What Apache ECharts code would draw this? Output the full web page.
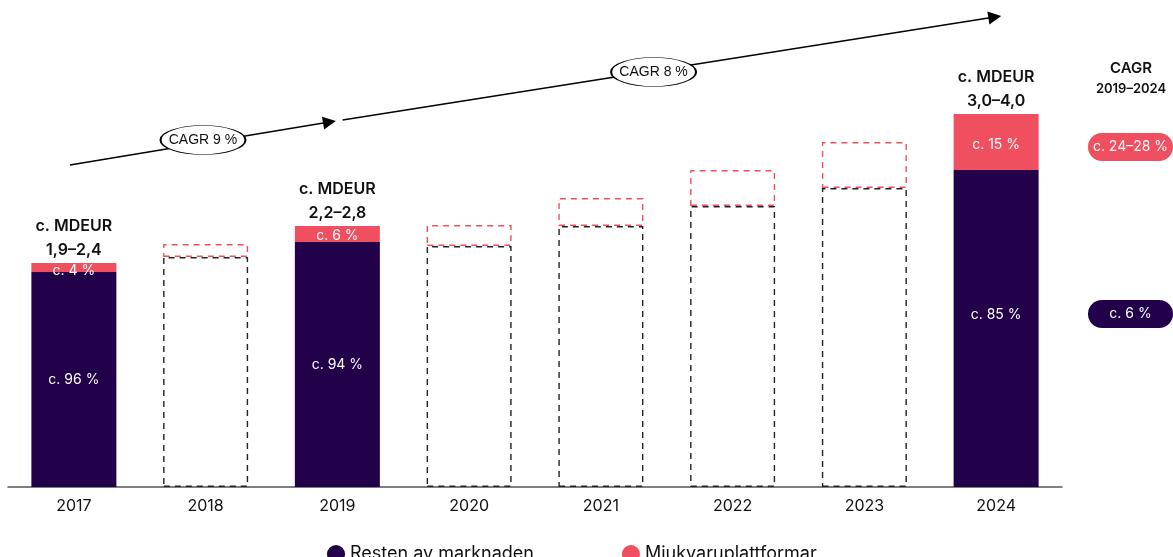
<!DOCTYPE html>
<html>
<head>
<meta charset="utf-8">
<script src="https://cdn.jsdelivr.net/npm/echarts@6/dist/echarts.min.js"></script>
<style>
  html, body { margin: 0; padding: 0; background: #fff; }
  #chart { width: 1173px; height: 557px; }
</style>
</head>
<body>
<div id="chart"></div>
<script>
// kategorier och värden (MDEUR)
var years = ['2017', '2018', '2019', '2020', '2021', '2022', '2023', '2024']
var resten = [2.15, 2.30, 2.45, 2.41, 2.61, 2.81, 2.99, 3.17]
var mjukvara = [0.09, 0.13, 0.16, 0.21, 0.28, 0.36, 0.46, 0.56]
var estimated = [false, true, false, true, true, true, true, false]
var restenLabels = ['c. 96 %', '', 'c. 94 %', '', '', '', '', 'c. 85 %']
var mjukLabels = ['c. 4 %', '', 'c. 6 %', '', '', '', '', 'c. 15 %']
var totalLabels = ['c. MDEUR\n1,9–2,4', '', 'c. MDEUR\n2,2–2,8', '', '', '', '', 'c. MDEUR\n3,0–4,0']
// CAGR-pilar: [x (kategoriindex), y (MDEUR)]
var arrows = [
    [[-0.03, 3.22], [1.94, 3.65]],
    [[2.04, 3.67], [6.99, 4.70]]
]
var cagrTags = [
    { pos: [0.98, 3.47], text: 'CAGR 9 %' },
    { pos: [4.40, 4.15], text: 'CAGR 8 %' }
]

var DARK = '#22004a'
var RED = '#f04f5f'
var FONT = 'Inter, "Noto Sans", sans-serif'

function barData (values, color, dashColor, labels, offsets) {
    return values.map(function (v, i) {
        var item = { value: v }
        if (estimated[i]) {
            item.itemStyle = {
                color: 'rgba(0,0,0,0)',
                borderColor: dashColor,
                borderWidth: 1.4,
                borderType: [6, 5]
            }
        } else {
            item.itemStyle = { color: color }
        }
        if (labels[i]) {
            item.label = { show: true, formatter: labels[i] }
            if (offsets && offsets[i]) item.label.offset = offsets[i]
        }
        return item
    })
}

function pill (y, text, fill) {
    return {
        type: 'group',
        x: 1088,
        y: y,
        children: [{
            type: 'rect',
            shape: { x: 0, y: 0, width: 85, height: 28, r: 14 },
            style: { fill: fill }
        }, {
            type: 'text',
            style: {
                x: 42.5, y: 14, text: text, align: 'center', verticalAlign: 'middle',
                font: '14px ' + FONT, fill: '#fff'
            }
        }]
    }
}

var myChart = echarts.init(document.getElementById('chart'))
var option = {
    animation: false,
    textStyle: { fontFamily: FONT },
    grid: { left: 8, right: 111, top: 87, bottom: 70 },
    legend: {
        left: 322,
        top: 540,
        icon: 'circle',
        itemWidth: 18,
        itemHeight: 18,
        itemGap: 88,
        textStyle: { fontSize: 18, color: '#111', fontFamily: FONT },
        data: ['Resten av marknaden', 'Mjukvaruplattformar']
    },
    xAxis: [{
        type: 'category',
        data: years,
        axisLine: { lineStyle: { color: '#555', width: 1.5 } },
        axisTick: { show: false },
        axisLabel: { fontSize: 16, color: '#111', margin: 11, fontFamily: FONT }
    }, {
        type: 'value',
        min: -0.5,
        max: 7.5,
        show: false
    }],
    yAxis: { type: 'value', min: 0, max: 4, show: false },
    series: [{
        name: 'Resten av marknaden',
        type: 'bar',
        stack: 'total',
        barWidth: 85,
        z: 2,
        itemStyle: { color: DARK },
        label: { show: false, position: 'inside', color: '#fff', fontSize: 14, fontFamily: FONT },
        data: barData(resten, DARK, '#222', restenLabels, { 7: [0, -14] })
    }, {
        name: 'Mjukvaruplattformar',
        type: 'bar',
        stack: 'total',
        barWidth: 85,
        z: 3,
        itemStyle: { color: RED },
        label: { show: false, position: 'inside', color: '#fff', fontSize: 14, fontFamily: FONT },
        data: barData(mjukvara, RED, RED, mjukLabels, { 0: [0, 3], 2: [0, 2], 7: [0, 3] })
    }, {
        type: 'bar',
        stack: 'total',
        barWidth: 85,
        silent: true,
        itemStyle: { color: 'rgba(0,0,0,0)' },
        label: {
            show: true,
            position: 'top',
            distance: 1,
            color: '#111',
            fontSize: 16,
            fontWeight: 600,
            lineHeight: 24,
            fontFamily: FONT,
            formatter: function (p) { return totalLabels[p.dataIndex] }
        },
        data: totalLabels.map(function (t) { return t ? 0 : '-' })
    }, {
        type: 'lines',
        coordinateSystem: 'cartesian2d',
        xAxisIndex: 1,
        yAxisIndex: 0,
        clip: false,
        silent: true,
        z: 1,
        symbol: ['none', 'triangle'],
        symbolSize: [9, 13],
        lineStyle: { color: '#000', width: 1.4, opacity: 1 },
        data: arrows.map(function (a) { return { coords: a } })
    }, {
        type: 'scatter',
        xAxisIndex: 1,
        yAxisIndex: 0,
        clip: false,
        silent: true,
        zlevel: 1,
        symbol: 'circle',
        symbolSize: [85, 29],
        itemStyle: { color: '#fff', borderColor: '#000', borderWidth: 1.2, opacity: 1 },
        label: {
            show: true,
            position: 'inside',
            color: '#111',
            fontSize: 14,
            fontFamily: '"Liberation Sans Narrow", "Liberation Sans", ' + FONT,
            formatter: function (p) { return cagrTags[p.dataIndex].text }
        },
        data: cagrTags.map(function (t) { return t.pos })
    }],
    graphic: [{
        type: 'text',
        x: 1131,
        y: 61,
        style: {
            text: 'CAGR',
            font: '600 15px ' + FONT,
            fill: '#111',
            align: 'center',
            verticalAlign: 'top'
        }
    }, {
        type: 'text',
        x: 1131,
        y: 83,
        style: {
            text: '2019–2024',
            font: '600 13px ' + FONT,
            fill: '#111',
            align: 'center',
            verticalAlign: 'top'
        }
    },
    pill(133, 'c. 24–28 %', RED),
    pill(300, 'c. 6 %', DARK)]
}
myChart.setOption(option)
</script>
</body>
</html>
